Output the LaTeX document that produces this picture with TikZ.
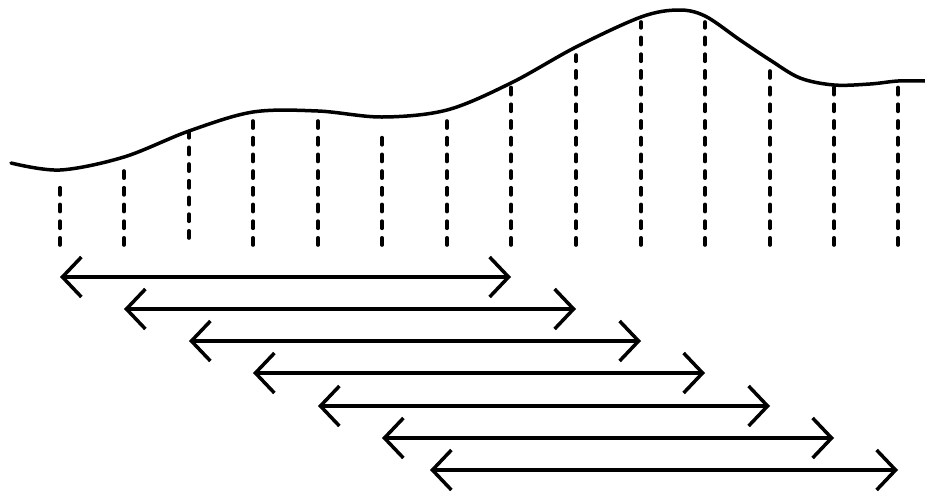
\documentclass[tikz,border=0pt]{standalone}
\usetikzlibrary{arrows.meta}
\begin{document}
\begin{tikzpicture}[x=1pt,y=-1pt,
  curveline/.style={line width=3.5pt, line cap=round, line join=round},
  dashline/.style={line width=3.6pt, line cap=round, dash pattern=on 7.2pt off 9.5pt},
  span/.style={line width=3.5pt, line cap=round, line join=round,
    {Straight Barb[length=19pt,width=40pt]}-{Straight Barb[length=19pt,width=40pt]}}]
\useasboundingbox (0,0) rectangle (925,491);
% curve
\draw[curveline] plot[smooth, tension=0.55] coordinates {(11,163) (60,170) (124,157) (189,131) (253,112) (318,111) (382,117) (447,110) (511,83) (576,47) (641,17) (678,10) (705,16) (740,40) (770,60) (800,78) (834,85) (870,84) (898,81) (925,81)};
% dashed lines: x / top / bottom
\foreach \i/\x/\t/\b in {1/60/186/245, 2/124/169/245, 3/189/132/238, 4/253/121/245, 5/318/121/245, 6/382/137/245, 7/447/121/245, 8/511/87/245, 9/576/55/245, 10/641/22/245, 11/705/22/245, 12/770/71/245, 13/834/87/245, 14/898/87/245}{
  \coordinate (b\i) at (\x,\b);
  \coordinate (t\i) at (\x,\t);
  \draw[dashline] (b\i) -- (t\i);
}
% double arrows
\foreach \i/\a/\c/\y in {1/60/511/277, 2/124/576/309, 3/189/641/341, 4/253/705/373, 5/318/770/406, 6/382/834/438, 7/430/898/470}{
  \coordinate (l\i) at (\a,\y);
  \coordinate (r\i) at (\c,\y);
  \draw[span] (l\i) -- (r\i);
}
\end{tikzpicture}
\end{document}
